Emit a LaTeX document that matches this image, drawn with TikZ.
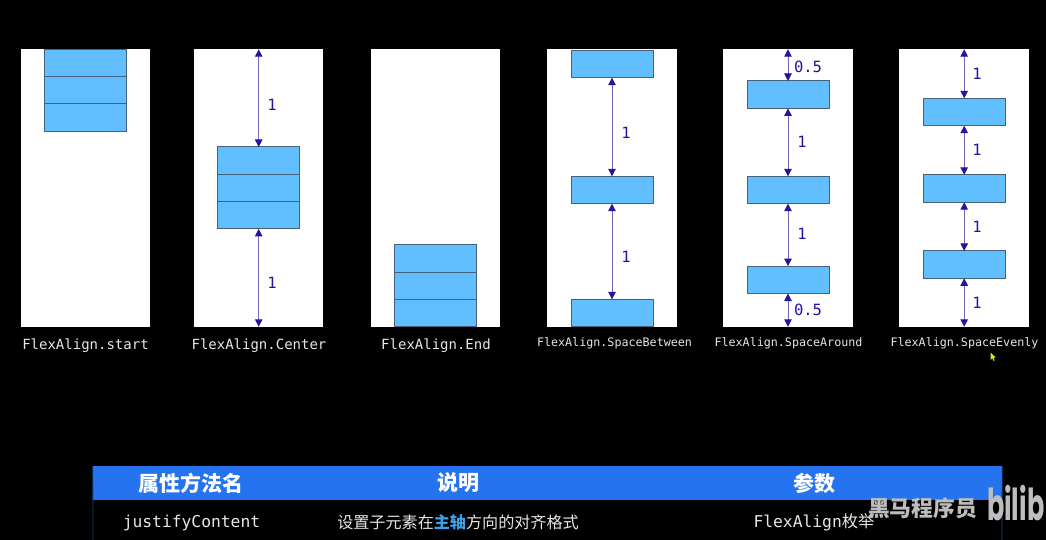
\documentclass[tikz,border=0pt]{standalone}
\usepackage{fontspec}
\setmainfont{Liberation Sans}
\setmonofont{DejaVu Sans Mono}
\newfontfamily\cjk{Noto Sans CJK SC}
\newfontfamily\logofont{Poppins}
\usetikzlibrary{arrows.meta,positioning,calc}
\definecolor{itemFill}{HTML}{62BFFF}
\definecolor{itemEdge}{HTML}{44627A}
\definecolor{gapInk}{HTML}{24149F}
\definecolor{gapLine}{HTML}{6F68B8}
\definecolor{headBlue}{HTML}{2573EE}
\definecolor{sideBlue}{HTML}{1D3F78}
\definecolor{keyBlue}{HTML}{3AA0E8}
\definecolor{capInk}{HTML}{E6E6E6}
\definecolor{markGrey}{HTML}{BDBDBD}

\begin{document}
\begin{tikzpicture}[
    x=1pt, y=-1pt,
    panel/.style={rectangle, fill=white, draw=none, inner sep=0pt, outer sep=0pt,
                  minimum width=129.5pt, minimum height=277.5pt},
    item/.style={rectangle, fill=itemFill, draw=itemEdge, line width=1pt, inner sep=0pt, outer sep=0pt,
                 minimum width=82pt, minimum height=27.4pt},
    gap/.style={{Triangle[length=7.5pt,width=7.5pt,color=gapInk]}-{Triangle[length=7.5pt,width=7.5pt,color=gapInk]},
                line width=1pt, color=gapLine},
    gaptext/.style={inner sep=0pt, text=gapInk, font=\ttfamily\fontsize{15.5}{17}\selectfont},
    capbig/.style={inner sep=0pt, text=capInk, font=\ttfamily\fontsize{14}{16}\selectfont},
    capsmall/.style={inner sep=0pt, text=capInk, font=\ttfamily\fontsize{11.7}{14}\selectfont},
    headtext/.style={inner sep=0pt, text=white, font=\cjk\bfseries\fontsize{21}{24}\selectfont},
    celltext/.style={inner sep=0pt, text=capInk, font=\ttfamily\fontsize{16.3}{19}\selectfont}
  ]

% ---------------- page ----------------
\useasboundingbox (0,0) rectangle (1046,540);
\fill[black] (0,0) rectangle (1046,540);

% ---------------- panels ----------------
\foreach \i/\x in {1/85.5,2/258.7,3/435.3,4/612,5/788,6/964.2}
  \node[panel] (p\i) at (\x, 188) {};

% ---------------- items ----------------
\foreach \n/\x/\y in {s1/85.3/63.2, s2/85.3/90.5, s3/85.3/117.7,
                      c1/258.7/160.7, c2/258.7/188, c3/258.7/215.2,
                      e1/435/258.6, e2/435/285.8, e3/435/313,
                      b1/612/64, b2/612/190, b3/612/313,
                      a1/788/94.7, a2/788/190, a3/788/279.8,
                      v1/964.2/112, v2/964.2/188.5, v3/964.2/264.6}
  \node[item] (\n) at (\x, \y) {};

% ---------------- gaps ----------------
\foreach \a/\b in {p2.north/c1.north, c3.south/p2.south,
                   b1.south/b2.north, b2.south/b3.north,
                   p5.north/a1.north, a1.south/a2.north, a2.south/a3.north, a3.south/p5.south,
                   p6.north/v1.north, v1.south/v2.north, v2.south/v3.north, v3.south/p6.south}
  \draw[gap] (\a) -- (\b);

% ---------------- gap labels ----------------
\foreach \n/\x/\y/\t in {g1/272/105/1, g2/272/283/1,
                         g3/626/133/1, g4/626/257/1,
                         g5/808/67/0.5, g6/802/142/1, g7/802/234/1, g8/808/310/0.5,
                         g9/977/74/1, g10/977/150/1, g11/977/226.5/1, g12/977/303/1}
  \node[gaptext] (\n) at (\x, \y) {\t};

% ---------------- captions ----------------
\node[capbig] (cap1) at (85.5, 345.5) {FlexAlign.start};
\node[capbig] (cap2) at (259, 345.5) {FlexAlign.Center};
\node[capbig] (cap3) at (436, 345.5) {FlexAlign.End};
\node[capsmall] (cap4) at (614.5, 343) {FlexAlign.SpaceBetween};
\node[capsmall] (cap5) at (788.5, 343) {FlexAlign.SpaceAround};
\node[capsmall] (cap6) at (964.5, 343) {FlexAlign.SpaceEvenly};

% ---------------- cursor ----------------
\fill[yellow!85!green] (990.5,352.5) -- (990.5,360) -- (992.3,358.3) -- (993.5,360.8)
  -- (994.6,360.2) -- (993.5,357.8) -- (995.7,357.6) -- cycle;

% ---------------- table ----------------
\node[rectangle, fill=headBlue, inner sep=0pt, minimum width=909pt, minimum height=34.6pt] (head) at (547.5, 483) {};
\draw[line width=0.8pt, color=sideBlue] (head.north west) -- (93,540);
\draw[line width=0.8pt, color=sideBlue] (head.north east) -- (1002,540);

\node[headtext] (h1) at (191, 483) {属性方法名};
\node[headtext] (h2) at (458, 483) {说明};
\node[headtext] (h3) at (814, 483) {参数};

\node[celltext] (c1txt) at (191.5, 523) {justifyContent};
\node[celltext, font=\cjk\fontsize{16.1}{19}\selectfont] (c2txt) at (458, 522)
  {设置子元素在\textcolor{keyBlue}{\bfseries 主轴}方向的对齐格式};
\node[celltext] (c3txt) at (814, 522) {FlexAlign{\cjk 枚举}};

% ---------------- watermark ----------------
\node[inner sep=0pt, text=markGrey, font=\cjk\bfseries\fontsize{21.8}{24}\selectfont] (mark) at (922.5, 508) {黑马程序员};
\node[inner sep=0pt, anchor=west, xscale=0.58, transform shape, text=markGrey,
      font=\logofont\bfseries\fontsize{44}{48}\selectfont] (logo) at (987, 503) {bilib};

\end{tikzpicture}
\end{document}
